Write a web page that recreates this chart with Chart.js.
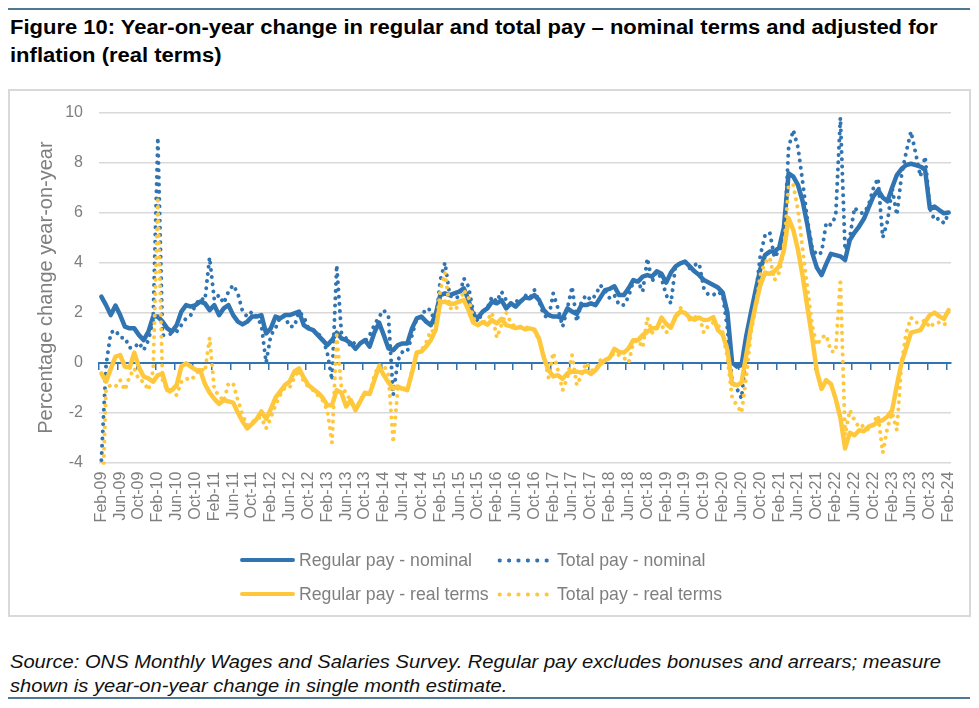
<!DOCTYPE html>
<html>
<head>
<meta charset="utf-8">
<script src="https://cdn.jsdelivr.net/npm/chart.js@4.4.1/dist/chart.umd.min.js"></script>
<style>
  body { margin: 0; width: 979px; height: 708px; background: #fff; position: relative; overflow: hidden;
         font-family: 'Liberation Sans', Arial, sans-serif; }
  .rule { position: absolute; left: 8px; width: 962px; height: 2px; background: #4f7893; }
  #title { position: absolute; left: 10px; top: 14px; font-weight: bold; font-size: 20px; line-height: 27.5px;
           color: #000; white-space: nowrap; transform: scaleX(1.1); transform-origin: 0 0; }
  #frame { position: absolute; left: 8px; top: 89px; width: 959px; height: 524px; border: 2px solid #d9d9d9; }
  #chartBox { position: absolute; left: 10px; top: 91px; width: 960px; height: 525px; }
  #legend { position: absolute; left: 240px; top: 543px; display: grid; grid-template-columns: 257px auto;
            grid-auto-rows: 34px; align-items: center; font-size: 17.7px; color: #7f7f7f; white-space: nowrap; }
  #legend .item { display: flex; align-items: center; }
  #legend .sample { display: inline-block; height: 5px; margin-right: 4px; }
  #source { position: absolute; left: 10px; top: 650px; font-style: italic; font-size: 18px; line-height: 24px;
            color: #111; white-space: nowrap; transform: scaleX(1.118); transform-origin: 0 0; }
</style>
</head>
<body>
<div class="rule" style="top:8px"></div>
<div id="title">Figure 10: Year-on-year change in regular and total pay – nominal terms and adjusted for<br>inflation (real terms)</div>
<div id="frame"></div>
<div id="chartBox"><canvas id="payChart" width="960" height="525"></canvas></div>
<div id="legend"></div>
<div id="source">Source: ONS Monthly Wages and Salaries Survey. Regular pay excludes bonuses and arrears; measure<br>shown is year-on-year change in single month estimate.</div>
<div class="rule" style="top:697px"></div>

<script>
// Month labels Feb-09 .. Feb-24 (181 months), only every 4th one is shown on the axis
const monthNames = ['Jan', 'Feb', 'Mar', 'Apr', 'May', 'Jun', 'Jul', 'Aug', 'Sep', 'Oct', 'Nov', 'Dec'];
const months = [];
for (let k = 0; k < 181; k++) {
    const m = (1 + k) % 12;
    const yr = 9 + Math.floor((1 + k) / 12);
    months.push(monthNames[m] + '-' + String(yr).padStart(2, '0'));
}

const yTicks = [-4, -2, 0, 2, 4, 6, 8, 10];

// Percentage change year-on-year
const regularNominal = [
    2.64, 2.3, 1.9, 2.28, 1.9, 1.44, 1.37, 1.37, 1.1, 0.9,
    1.24, 1.84, 1.84, 1.64, 1.37, 1.24, 1.5, 2.04, 2.3, 2.24,
    2.3, 2.44, 2.37, 2.1, 2.3, 1.9, 2.17, 2.3, 1.9, 1.64,
    1.53, 1.64, 1.84, 1.84, 1.9, 1.17, 1.37, 1.84, 1.77, 1.9,
    1.9, 1.97, 2.04, 1.5, 1.37, 1.3, 1.1, 0.9, 0.7, 0.9,
    1.2, 0.97, 0.9, 0.77, 0.55, 0.77, 0.9, 0.64, 1.2, 1.6,
    1.1, 0.57, 0.5, 0.7, 0.77, 0.77, 1.37, 1.77, 1.84, 1.64,
    1.5, 1.9, 2.7, 2.77, 2.7, 2.77, 2.84, 2.97, 2.5, 1.9,
    1.8, 2.04, 2.17, 2.44, 2.37, 2.5, 2.17, 2.37, 2.24, 2.44,
    2.6, 2.57, 2.7, 2.5, 2.1, 1.9, 1.84, 1.84, 1.77, 2.17,
    2.04, 1.95, 2.3, 2.3, 2.37, 2.3, 2.6, 2.9, 2.95, 3.05,
    2.7, 2.7, 2.97, 3.3, 3.24, 3.44, 3.5, 3.44, 3.65, 3.55,
    3.2, 3.6, 3.85, 3.97, 4.04, 3.85, 3.65, 3.5, 3.3, 3.2,
    3.1, 3.0, 2.8, 2.0, 0.0, -0.16, -0.1, 1.07, 2.0, 2.9,
    3.75, 4.3, 4.44, 4.44, 4.6, 5.4, 7.57, 7.44, 7.1, 6.44,
    5.5, 4.4, 3.8, 3.5, 3.95, 4.35, 4.3, 4.25, 4.1, 4.9,
    5.2, 5.45, 5.75, 6.2, 6.65, 6.9, 6.6, 6.45, 7.0, 7.5,
    7.75, 7.9, 7.95, 7.9, 7.84, 7.7, 6.17, 6.24, 6.1, 5.97,
    6.0
];
const totalNominal = [
    -3.9, -0.1, 1.2, 1.3, 1.0, 1.0, 0.6, 0.6, 0.8, 0.5,
    0.9, 1.7, 9.0, 1.1, 1.1, 1.17, 1.24, 1.5, 1.77, 1.9,
    2.3, 2.57, 2.5, 4.2, 2.5, 2.7, 2.37, 2.84, 3.1, 2.77,
    2.04, 1.84, 2.04, 1.84, 1.5, 0.0, 1.1, 1.37, 1.84, 1.84,
    1.44, 1.44, 2.04, 1.84, 1.37, 1.3, 1.17, 0.97, 0.4, -0.7,
    3.9, 1.2, 0.97, 0.64, 0.84, 0.77, 0.84, 1.1, 1.5, 1.84,
    2.1, 1.84, -1.3, 0.1, 0.44, 0.44, 1.1, 1.77, 1.84, 2.17,
    2.1, 1.5, 3.3, 4.0, 2.7, 2.57, 2.64, 3.37, 3.04, 2.04,
    1.64, 2.04, 2.17, 2.64, 2.44, 2.84, 2.5, 2.37, 2.5, 2.37,
    2.7, 2.57, 2.9, 2.44, 1.9, 1.77, 2.77, 2.17, 1.44, 2.17,
    3.04, 1.64, 2.44, 2.7, 2.5, 2.7, 3.1, 2.9, 2.57, 2.7,
    2.3, 2.3, 2.64, 3.24, 3.24, 2.84, 4.17, 3.24, 3.64, 3.37,
    2.7, 2.37, 3.9, 3.97, 4.04, 3.77, 3.9, 3.97, 2.97, 2.7,
    2.7, 2.84, 2.7, 1.37, -0.76, -1.03, -1.43, 0.44, 1.64, 2.7,
    4.3, 5.1, 5.2, 4.2, 4.5, 4.7, 8.6, 9.3, 8.6, 7.2,
    5.7, 4.6, 4.3, 4.4, 5.6, 5.5, 5.85, 9.8, 4.5, 5.0,
    6.2, 6.0, 5.97, 6.3, 6.97, 7.37, 5.0, 5.64, 6.97, 5.9,
    7.5, 8.44, 9.24, 8.37, 7.44, 8.24, 6.17, 5.7, 5.77, 5.57,
    5.97
];
const regularReal = [
    -0.43, -0.76, -0.25, 0.24, 0.3, -0.16, -0.2, 0.4, -0.2, -0.56,
    -0.63, -0.76, -0.5, -0.45, -1.1, -1.1, -0.9, -0.15, -0.03, -0.16,
    -0.28, -0.3, -0.85, -1.2, -1.45, -1.65, -1.5, -1.55, -1.6, -2.0,
    -2.35, -2.63, -2.45, -2.25, -1.95, -2.25, -1.85, -1.4, -1.15, -0.9,
    -0.76, -0.35, -0.23, -0.6, -0.9, -1.05, -1.2, -1.4, -1.7, -1.7,
    -1.1, -1.2, -1.75, -1.5, -1.9, -1.55, -1.2, -1.25, -0.7, -0.15,
    -0.5, -0.8, -1.03, -0.95, -1.05, -1.1, -0.4, 0.4, 0.45, 0.65,
    0.9, 1.3, 2.4, 2.44, 2.35, 2.35, 2.45, 2.5, 2.1, 1.6,
    1.5, 1.62, 1.52, 1.7, 1.57, 1.75, 1.5, 1.45, 1.38, 1.43,
    1.33, 1.37, 1.32, 0.95, 0.2, -0.3, -0.55, -0.5, -0.65, -0.43,
    -0.36, -0.36, -0.4, -0.33, -0.45, -0.3, -0.05, 0.1, 0.2, 0.55,
    0.43, 0.4, 0.57, 0.9, 0.9, 1.1, 1.24, 1.37, 1.37, 1.8,
    1.55, 1.4, 1.85, 2.04, 1.99, 1.8, 1.72, 1.8, 1.7, 1.72,
    1.82, 1.3, 1.12, 0.5, -0.85, -0.9, -0.8, 0.3, 1.4, 2.3,
    3.1, 3.6, 3.55, 3.65, 3.85, 4.5, 5.77, 5.3, 4.5, 3.45,
    2.2, 1.0, -0.35, -1.05, -0.7, -0.85, -1.45, -2.2, -3.43, -2.8,
    -2.9, -2.7, -2.74, -2.56, -2.5, -2.36, -2.3, -2.15, -1.9, -0.9,
    0.0, 0.6, 1.2, 1.25, 1.3, 1.62, 1.9, 2.0, 1.85, 1.75,
    2.1
];
const totalReal = [
    -6.9, -1.03, -0.9, -0.96, -0.7, -1.1, -0.56, -0.23, -0.7, -0.76,
    -1.1, -0.3, 6.5, -0.7, -1.1, -1.2, -1.3, -0.76, -0.63, -0.7,
    -0.5, -0.23, -0.36, 1.0, -1.1, -1.3, -1.56, -0.83, -0.83, -1.5,
    -2.1, -2.5, -2.4, -2.2, -2.2, -2.63, -2.2, -1.7, -1.3, -1.0,
    -1.0, -0.6, -0.3, -0.76, -0.96, -1.1, -1.3, -1.5, -1.9, -3.2,
    1.1, -1.0, -1.2, -1.56, -1.9, -1.5, -1.2, -1.3, -0.5, -0.1,
    -0.1, -0.5, -3.2, -1.0, -1.0, -1.1, -0.3, 0.4, 0.5, 0.8,
    1.3, 1.2, 2.9, 3.6, 2.2, 2.1, 2.3, 2.9, 2.6, 1.8,
    1.5, 1.6, 1.7, 2.0, 1.0, 1.5, 2.0, 1.6, 1.4, 1.4,
    1.4, 1.4, 1.3, 0.9, 0.3, -0.6, 0.4, -0.3, -1.1, -0.6,
    0.3, -0.9, -0.5, 0.0, -0.3, -0.3, 0.1, 0.1, 0.2, 0.4,
    0.3, 0.2, 0.0, 0.8, 0.9, 0.6, 1.8, 1.2, 1.4, 1.5,
    1.2, 1.4, 1.8, 2.2, 2.0, 1.7, 1.8, 1.9, 1.2, 1.5,
    1.6, 1.5, 1.2, 0.2, -1.4, -1.7, -2.0, -0.6, 1.2, 2.2,
    3.5, 4.0, 4.2, 3.3, 3.6, 4.5, 7.1, 7.1, 6.1, 4.5,
    3.0, 1.5, 0.7, 1.0, 1.1, 0.45, 0.45, 3.35, -2.9, -1.9,
    -2.3, -2.6, -2.5, -2.7, -2.4, -2.1, -3.6, -2.6, -2.0, -2.7,
    0.0, 1.2, 1.8, 1.6, 1.6, 1.7, 1.4, 1.6, 1.6, 1.5,
    1.7
];

const BLUE = '#3174b2';
const YELLOW = '#ffc83c';
const GREY = '#7f7f7f';

Chart.defaults.font.family = "'Liberation Sans', Arial, sans-serif";
Chart.defaults.color = GREY;

function solid(label, data, color, order) {
    return { label, data, borderColor: color, backgroundColor: color, borderWidth: 4.5,
             pointRadius: 0, tension: 0, borderJoinStyle: 'round', borderCapStyle: 'round', order, clip: 2 };
}
function dotted(label, data, color, order) {
    return { label, data, borderColor: color, backgroundColor: color, borderWidth: 4,
             borderDash: [0.01, 7.2], borderCapStyle: 'round', pointRadius: 0, tension: 0, order, clip: 2 };
}

// keep the plot area where the original has it (no extra label padding)
function noPad(s) { s.paddingLeft = 0; s.paddingRight = 0; s.paddingTop = 0; s.paddingBottom = 0; }

const ctx = document.getElementById('payChart').getContext('2d');
const payChart = new Chart(ctx, {
    type: 'line',
    data: {
        labels: months,
        datasets: [
            solid('Regular pay - nominal', regularNominal, BLUE, 4),
            dotted('Total pay - nominal', totalNominal, BLUE, 3),
            solid('Regular pay - real terms', regularReal, YELLOW, 2),
            dotted('Total pay - real terms', totalReal, YELLOW, 1)
        ]
    },
    options: {
        responsive: false,
        animation: false,
        events: [],
        layout: { padding: { top: 21.5, right: 19, bottom: 0, left: 0 } },
        plugins: { legend: { display: false }, tooltip: { enabled: false } },
        scales: {
            x: {
                type: 'category',
                offset: true,
                grid: { display: false, drawTicks: false },
                border: { display: false },
                ticks: {
                    autoSkip: false, maxRotation: 90, minRotation: 90, padding: 9,
                    color: GREY, font: { size: 16 },
                    callback: function(val, idx) { return idx % 4 === 0 ? this.getLabelForValue(val) : ''; }
                },
                afterFit: s => { s.height = 153.3; noPad(s); }
            },
            // axis line through zero with tick marks, like the original
            x2: {
                type: 'category',
                labels: months,
                offset: true,
                position: { y: 0 },
                ticks: { display: false },
                grid: {
                    drawOnChartArea: false, drawTicks: true, tickLength: 6, lineWidth: 1.5, offset: true,
                    color: c => (c.index % 4 === 0 && c.index < months.length) ? BLUE : 'rgba(0,0,0,0)'
                },
                border: { display: true, color: BLUE, width: 2 },
                afterFit: noPad
            },
            y: {
                min: -4, max: 10,
                afterBuildTicks: s => { s.ticks = yTicks.map(v => ({ value: v })); },
                grid: { color: '#d9d9d9', lineWidth: 1.5, drawTicks: false },
                border: { display: false },
                ticks: { color: GREY, font: { size: 16 }, padding: 16 },
                title: { display: true, text: 'Percentage change year-on-year', color: GREY,
                         font: { size: 20 }, padding: { top: 24, bottom: 0 } },
                afterFit: s => { s.width = 89; noPad(s); }
            }
        }
    }
});

// HTML legend built from the chart's datasets, laid out in two columns
const legendBox = document.getElementById('legend');
payChart.data.datasets.forEach(ds => {
    const item = document.createElement('div');
    item.className = 'item';
    const sample = document.createElement('span');
    sample.className = 'sample';
    if (ds.borderDash) {
        sample.style.width = '52px';
        sample.style.marginRight = '8px';
        sample.style.backgroundImage = 'radial-gradient(circle, ' + ds.borderColor + ' 1.8px, rgba(255,255,255,0) 2.3px)';
        sample.style.backgroundSize = '9.4px 5px';
        sample.style.backgroundPosition = '-2px 0';
        sample.style.backgroundRepeat = 'repeat-x';
    } else {
        sample.style.width = '55px';
        sample.style.height = '4.5px';
        sample.style.borderRadius = '2px';
        sample.style.background = ds.borderColor;
    }
    item.appendChild(sample);
    item.appendChild(document.createTextNode(ds.label));
    legendBox.appendChild(item);
});
</script>
</body>
</html>
